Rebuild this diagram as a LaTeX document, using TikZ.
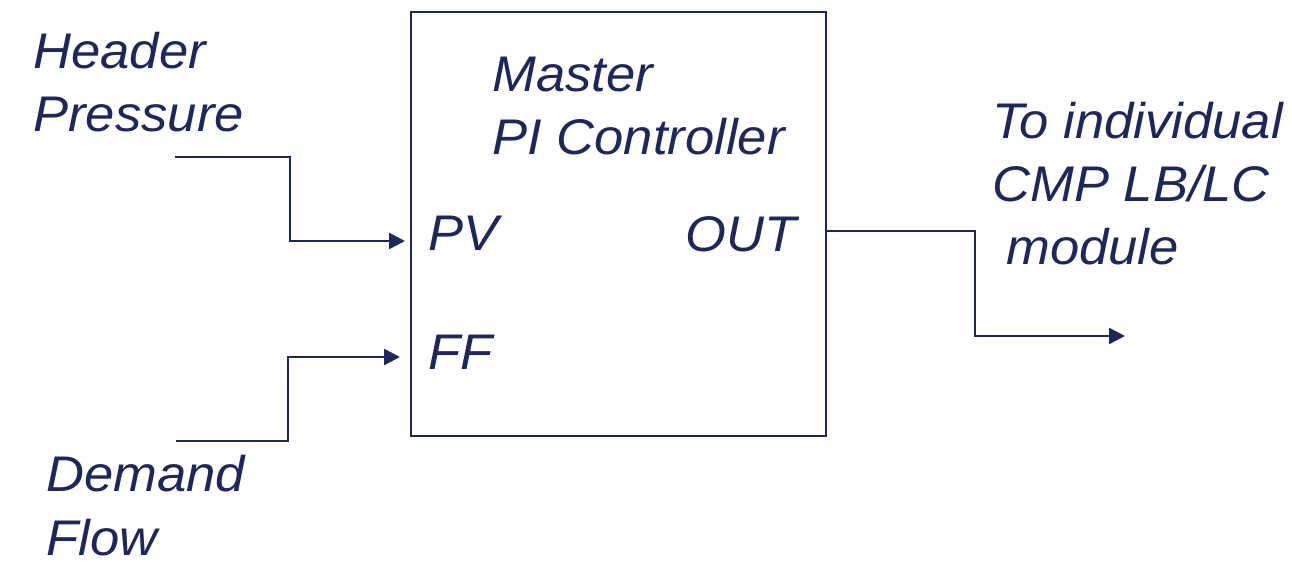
\documentclass[tikz,border=0pt]{standalone}
\usepackage{fontspec}
\setmainfont{Liberation Sans}[FakeStretch=1.05]
\usetikzlibrary{arrows.meta,positioning}
\definecolor{navyblue}{RGB}{30,39,88}

\begin{document}
\begin{tikzpicture}[
    label/.style={text=navyblue, inner sep=0pt, align=left, font=\fontsize{28.5}{36}\selectfont\itshape},
    signal/.style={navyblue, line width=1.4pt, -{Triangle[length=0.32cm,width=0.32cm]}}
]
    \useasboundingbox (0,0) rectangle (25.84,11.4);

    % Controller box
    \node[draw=navyblue, line width=1.4pt, minimum width=8.3cm, minimum height=8.48cm, inner sep=0pt, anchor=south west] (ctrl) at (8.2,2.66) {};
    \node[label, anchor=base west] (title) at (9.84,8.3) {Master\\PI Controller};
    \node[label, anchor=base west] (pv) at (8.56,6.39) {PV};
    \node[label, anchor=base west] (ff) at (8.56,4.0) {FF};
    \node[label, anchor=base west] (out) at (13.7,6.36) {OUT};

    % Inputs
    \node[label, anchor=base west] (header) at (0.66,8.76) {Header\\Pressure};
    \node[label, anchor=base west] (demand) at (0.92,0.3) {Demand\\Flow};
    \coordinate (hp) at (3.5,8.26);
    \coordinate (df) at (3.52,2.58);
    \coordinate (pvin) at (8.1,6.58);
    \coordinate (ffin) at (8.0,4.26);
    \draw[signal] (hp) -| (5.8,6.58) -- (pvin);
    \draw[signal] (df) -| (5.76,4.26) -- (ffin);

    % Output
    \node[label, anchor=base west] (dest) at (19.84,6.1) {To individual\\CMP LB/LC\\\hspace*{0.28em}module};
    \coordinate (outend) at (22.5,4.68);
    \draw[signal] (ctrl.east |- 0,6.78) -| (19.5,4.68) -- (outend);
\end{tikzpicture}
\end{document}
